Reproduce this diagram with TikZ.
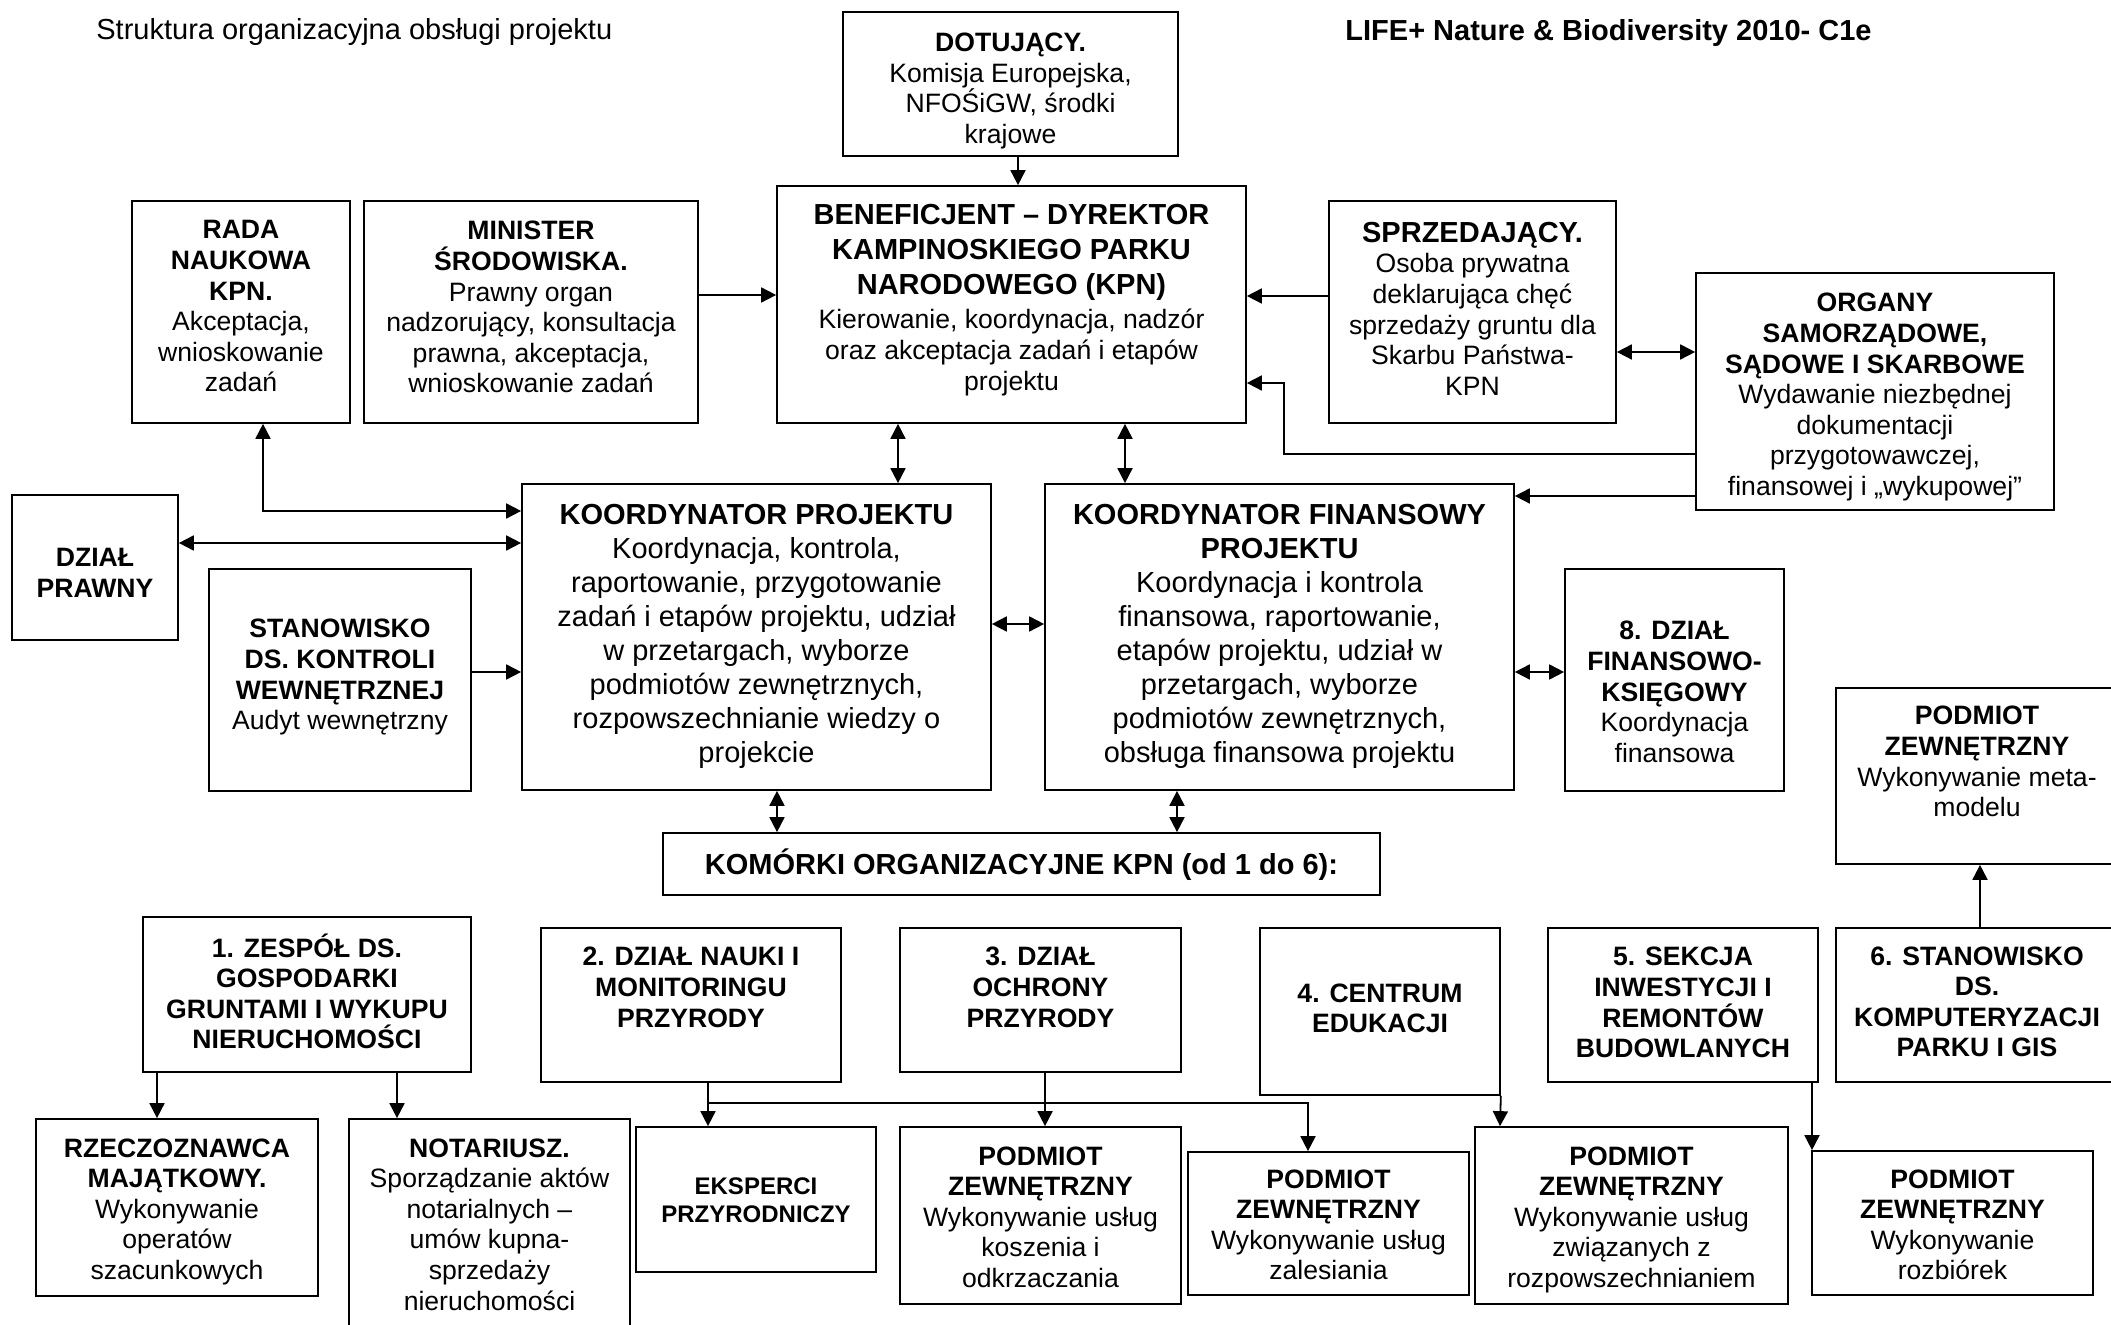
\documentclass[tikz,border=0pt]{standalone}
\usepackage{fontspec}
\setmainfont{Liberation Sans}
\usetikzlibrary{arrows.meta,fit}
\newcommand{\fA}{\fontsize{14.5pt}{17pt}\selectfont}
\newcommand{\fAh}{\fontsize{14.5pt}{17.5pt}\selectfont}
\newcommand{\fB}{\fontsize{13.3pt}{15.3pt}\selectfont}
\newcommand{\fC}{\fontsize{12pt}{14pt}\selectfont}
\newcommand{\st}{\rule{0pt}{1em}}
\newcommand{\bx}[5]{\node[boxst, fit={(#2,#3) (#4,#5)}] (#1) {};}
\begin{document}
\begin{tikzpicture}[x=0.5pt,y=-0.5pt,
  boxst/.style={draw, line width=0.85pt, inner sep=0pt},
  txt/.style={align=center, inner sep=0pt, anchor=north},
  con/.style={line width=0.9pt},
  >={Triangle[width=7.5pt,length=7.5pt]}]
\useasboundingbox (0,0) rectangle (2111,1325);

% titles
\node[anchor=base west, inner sep=0pt, font=\fA] (title) at (96,40) {Struktura organizacyjna obsługi projektu};
\node[anchor=base west, inner sep=0pt, font=\fA\bfseries] (life) at (1345,41) {LIFE+ Nature \& Biodiversity 2010- C1e};

% boxes
\bx{dot}{843}{12}{1178}{156}
\bx{ben}{777}{186}{1246}{423}
\bx{rada}{132}{201}{350}{423}
\bx{min}{364}{201}{698}{423}
\bx{spr}{1329}{201}{1616}{423}
\bx{org}{1696}{273}{2054}{510}
\bx{praw}{12}{495}{178}{640}
\bx{kp}{522}{484}{991}{790}
\bx{kf}{1045}{484}{1514}{790}
\bx{stk}{209}{569}{471}{791}
\bx{dfk}{1565}{569}{1784}{791}
\bx{meta}{1836}{688}{2118}{864}
\bx{kom}{663}{833}{1380}{895}
\bx{zz}{143}{917}{471}{1072}
\bx{dd}{541}{928}{841}{1082}
\bx{ddd}{900}{928}{1181}{1072}
\bx{cc}{1260}{928}{1500}{1095}
\bx{ss}{1548}{928}{1818}{1082}
\bx{sss}{1836}{928}{2118}{1082}
\bx{rzecz}{36}{1119}{318}{1296}
\bx{notar}{349}{1119}{630}{1334}
\bx{eksp}{636}{1127}{876}{1272}
\bx{pkos}{900}{1127}{1181}{1304}
\bx{pzal}{1188}{1152}{1469}{1295}
\bx{proz}{1475}{1127}{1788}{1304}
\bx{prb}{1812}{1151}{2093}{1295}

% texts
\node[txt,font=\fB] (dot-t) at (1010.5,24.6) {\st\textbf{DOTUJĄCY.}\\Komisja Europejska,\\NFOŚiGW, środki\\krajowe};
\node[txt,font=\fAh] (ben-h) at (1011.5,195.4) {\st\textbf{BENEFICJENT – DYREKTOR}\\\textbf{KAMPINOSKIEGO PARKU}\\\textbf{NARODOWEGO (KPN)}};
\node[txt,font=\fB] (ben-b) at (1011.5,302) {\st Kierowanie, koordynacja, nadzór\\oraz akceptacja zadań i etapów\\projektu};
\node[txt,font=\fB] (rada-t) at (241,212) {\st\textbf{RADA}\\\textbf{NAUKOWA}\\\textbf{KPN.}\\Akceptacja,\\wnioskowanie\\zadań};
\node[txt,font=\fB] (min-t) at (531,213) {\st\textbf{MINISTER}\\\textbf{ŚRODOWISKA.}\\Prawny organ\\nadzorujący, konsultacja\\prawna, akceptacja,\\wnioskowanie zadań};
\node[txt,font=\fA] (spr-h) at (1472.5,213.4) {\st\textbf{SPRZEDAJĄCY.}};
\node[txt,font=\fB] (spr-b) at (1472.5,246) {\st Osoba prywatna\\deklarująca chęć\\sprzedaży gruntu dla\\Skarbu Państwa-\\KPN};
\node[txt,font=\fB] (org-t) at (1875,285) {\st\textbf{ORGANY}\\\textbf{SAMORZĄDOWE,}\\\textbf{SĄDOWE I SKARBOWE}\\Wydawanie niezbędnej\\dokumentacji\\przygotowawczej,\\finansowej i „wykupowej”};
\node[txt,font=\fB] (praw-t) at (95,540) {\st\textbf{DZIAŁ}\\\textbf{PRAWNY}};
\node[txt,font=\fA] (kp-t) at (756.5,495.4) {\st\textbf{KOORDYNATOR PROJEKTU}\\Koordynacja, kontrola,\\raportowanie, przygotowanie\\zadań i etapów projektu, udział\\w przetargach, wyborze\\podmiotów zewnętrznych,\\rozpowszechnianie wiedzy o\\projekcie};
\node[txt,font=\fA] (kf-t) at (1279.5,495.4) {\st\textbf{KOORDYNATOR FINANSOWY}\\\textbf{PROJEKTU}\\Koordynacja i kontrola\\finansowa, raportowanie,\\etapów projektu, udział w\\przetargach, wyborze\\podmiotów zewnętrznych,\\obsługa finansowa projektu};
\node[txt,font=\fB] (stk-t) at (340,611) {\st\textbf{STANOWISKO}\\\textbf{DS. KONTROLI}\\\textbf{WEWNĘTRZNEJ}\\Audyt wewnętrzny};
\node[txt,font=\fB] (dfk-t) at (1674.5,613) {\st\textbf{8. DZIAŁ}\\\textbf{FINANSOWO-}\\\textbf{KSIĘGOWY}\\Koordynacja\\finansowa};
\node[txt,font=\fB] (meta-t) at (1977,698) {\st\textbf{PODMIOT}\\\textbf{ZEWNĘTRZNY}\\Wykonywanie meta-\\modelu};
\node[anchor=base, inner sep=0pt, font=\fA\bfseries] (kom-t) at (1021.5,875) {KOMÓRKI ORGANIZACYJNE KPN (od 1 do 6):};
\node[txt,font=\fB] (zz-t) at (307,930) {\st\textbf{1. ZESPÓŁ DS.}\\\textbf{GOSPODARKI}\\\textbf{GRUNTAMI I WYKUPU}\\\textbf{NIERUCHOMOŚCI}};
\node[txt,font=\fB] (dd-t) at (691,939) {\st\textbf{2. DZIAŁ NAUKI I}\\\textbf{MONITORINGU}\\\textbf{PRZYRODY}};
\node[txt,font=\fB] (ddd-t) at (1040.5,939) {\st\textbf{3. DZIAŁ}\\\textbf{OCHRONY}\\\textbf{PRZYRODY}};
\node[txt,font=\fB] (cc-t) at (1380,975) {\st\textbf{4. CENTRUM}\\\textbf{EDUKACJI}};
\node[txt,font=\fB] (ss-t) at (1683,939) {\st\textbf{5. SEKCJA}\\\textbf{INWESTYCJI I}\\\textbf{REMONTÓW}\\\textbf{BUDOWLANYCH}};
\node[txt,font=\fB] (sss-t) at (1977,938) {\st\textbf{6. STANOWISKO}\\\textbf{DS.}\\\textbf{KOMPUTERYZACJI}\\\textbf{PARKU I GIS}};
\node[txt,font=\fB] (rzecz-t) at (177,1130) {\st\textbf{RZECZOZNAWCA}\\\textbf{MAJĄTKOWY.}\\Wykonywanie\\operatów\\szacunkowych};
\node[txt,font=\fB] (notar-t) at (489.5,1130) {\st\textbf{NOTARIUSZ.}\\Sporządzanie aktów\\notarialnych –\\umów kupna-\\sprzedaży\\nieruchomości};
\node[txt,font=\fC] (eksp-t) at (756,1169.6) {\st\textbf{EKSPERCI}\\\textbf{PRZYRODNICZY}};
\node[txt,font=\fB] (pkos-t) at (1040.5,1138) {\st\textbf{PODMIOT}\\\textbf{ZEWNĘTRZNY}\\Wykonywanie usług\\koszenia i\\odkrzaczania};
\node[txt,font=\fB] (pzal-t) at (1328.5,1161) {\st\textbf{PODMIOT}\\\textbf{ZEWNĘTRZNY}\\Wykonywanie usług\\zalesiania};
\node[txt,font=\fB] (proz-t) at (1631.5,1138) {\st\textbf{PODMIOT}\\\textbf{ZEWNĘTRZNY}\\Wykonywanie usług\\związanych z\\rozpowszechnianiem};
\node[txt,font=\fB] (prb-t) at (1952.5,1161) {\st\textbf{PODMIOT}\\\textbf{ZEWNĘTRZNY}\\Wykonywanie\\rozbiórek};

% connectors
\draw[con,->] (1018,0 |- dot.south) -- (1018,0 |- ben.north);
\draw[con,->] (min.east |- 0,295) -- (ben.west |- 0,295);
\draw[con,->] (spr.west |- 0,296) -- (ben.east |- 0,296);
\draw[con,<->] (spr.east |- 0,352) -- (org.west |- 0,352);
\draw[con,->] (org.west |- 0,454) -- (1284,454) -- (1284,383) -- (ben.east |- 0,383);
\draw[con,->] (org.west |- 0,496) -- (kf.east |- 0,496);
\draw[con,<->] (898,0 |- ben.south) -- (898,0 |- kp.north);
\draw[con,<->] (1125,0 |- ben.south) -- (1125,0 |- kf.north);
\draw[con,<->] (263,0 |- rada.south) -- (263,511) -- (kp.west |- 0,511);
\draw[con,<->] (praw.east |- 0,543) -- (kp.west |- 0,543);
\draw[con,->] (stk.east |- 0,672) -- (kp.west |- 0,672);
\draw[con,<->] (kp.east |- 0,624) -- (kf.west |- 0,624);
\draw[con,<->] (kf.east |- 0,672) -- (dfk.west |- 0,672);
\draw[con,<->] (777,0 |- kp.south) -- (777,0 |- kom.north);
\draw[con,<->] (1177,0 |- kf.south) -- (1177,0 |- kom.north);
\draw[con,->] (1980,0 |- sss.north) -- (1980,0 |- meta.south);
\draw[con,->] (157,0 |- zz.south) -- (157,0 |- rzecz.north);
\draw[con,->] (397,0 |- zz.south) -- (397,0 |- notar.north);
\coordinate (j2) at (708,1103);
\draw[con,->] (708,0 |- dd.south) -- (j2) -- (708,0 |- eksp.north);
\draw[con,->] (j2) -- (1308,1103) -- (1308,0 |- pzal.north);
\draw[con,->] (1045,0 |- ddd.south) -- (1045,0 |- pkos.north);
\draw[con,->] (cc.south east) -- (1500,0 |- proz.north);
\draw[con,->] (1812,0 |- ss.south) -- (1812,0 |- prb.north);
\end{tikzpicture}
\end{document}
